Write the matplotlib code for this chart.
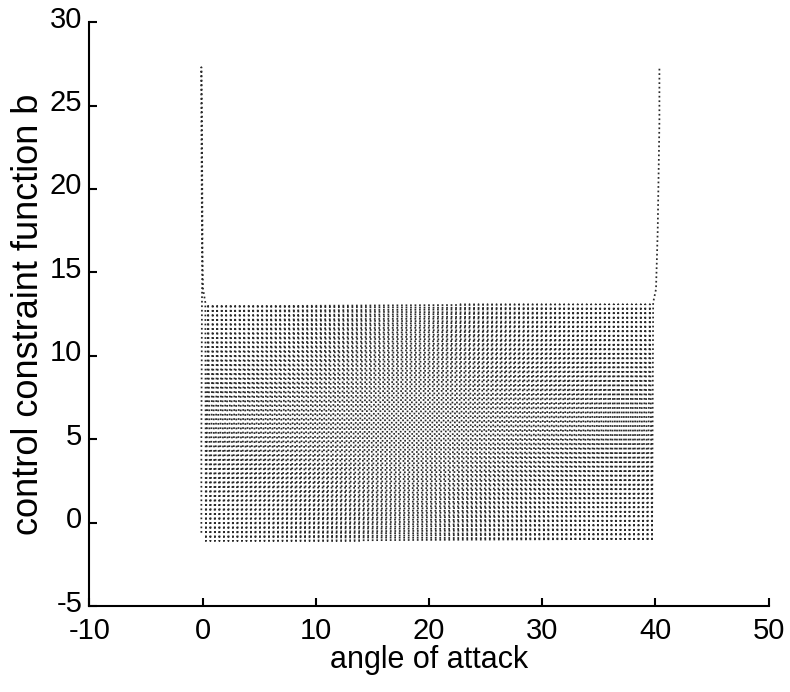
#!/usr/bin/env python3
import numpy as np
import matplotlib
matplotlib.use('Agg')
import matplotlib.pyplot as plt
import matplotlib.transforms as mtransforms

plt.rcParams['font.family'] = ['Liberation Sans', 'DejaVu Sans']
plt.rcParams['axes.unicode_minus'] = False

# left end: steep spikes just before the band starts
left_angle = [0.25, 0.05, -0.05, -0.1, -0.1, -0.05, 0.0, -0.05, -0.1, -0.1]
left_b = [13.2, 14.0, 17.4, 24.0, 27.3, 24.0, 17.4, 13.0, 5.0, -0.6]

# band of fast oscillation between these levels
band_start, band_end = 0.3, 39.7
band_hi = 13.1
band_lo = -1.1
band_segments = 198

# right end: curve climbs back up into a spike
right_angle = [39.8, 40.05, 40.2, 40.3, 40.35, 40.35]
right_b = [13.2, 14.0, 17.5, 22.0, 24.0, 27.3]


def build_curve():
    band_x = np.linspace(band_start, band_end, band_segments + 1)
    band_y = np.where(np.arange(band_segments + 1) % 2 == 0, band_lo, band_hi)
    x = np.concatenate([left_angle[::-1], band_x, right_angle])
    y = np.concatenate([left_b[::-1], band_y, right_b])
    return x, y


fig = plt.figure(figsize=(7.9, 6.92), dpi=100, facecolor='w')
ax = fig.add_axes([0.113, 0.124, 0.86, 0.844])

x, y = build_curve()
ax.plot(x, y, linestyle=(0, (1, 1.6)), color='#2a2a2a', linewidth=1.25)

ax.set_xlim(-10, 50)
ax.set_ylim(-5, 30)
ax.set_xticks(range(-10, 51, 10))
ax.set_yticks(range(-5, 31, 5))

for side in ('top', 'right'):
    ax.spines[side].set_visible(False)
for side in ('left', 'bottom'):
    ax.spines[side].set_linewidth(1.5)

ax.tick_params(direction='in', length=6, width=1.5, labelsize=21)
ax.tick_params(axis='x', pad=8)
ax.tick_params(axis='y', pad=5)

# nudge y tick labels up a little so "-5" clears "-10"
shift = mtransforms.ScaledTranslation(0, 4 / 72, fig.dpi_scale_trans)
for lbl in ax.get_yticklabels():
    lbl.set_transform(lbl.get_transform() + shift)

ax.set_xlabel('angle of attack', fontsize=22, labelpad=0)
ax.set_ylabel('control constraint function b', fontsize=26, labelpad=3)

fig.savefig('out.png', dpi=100)
